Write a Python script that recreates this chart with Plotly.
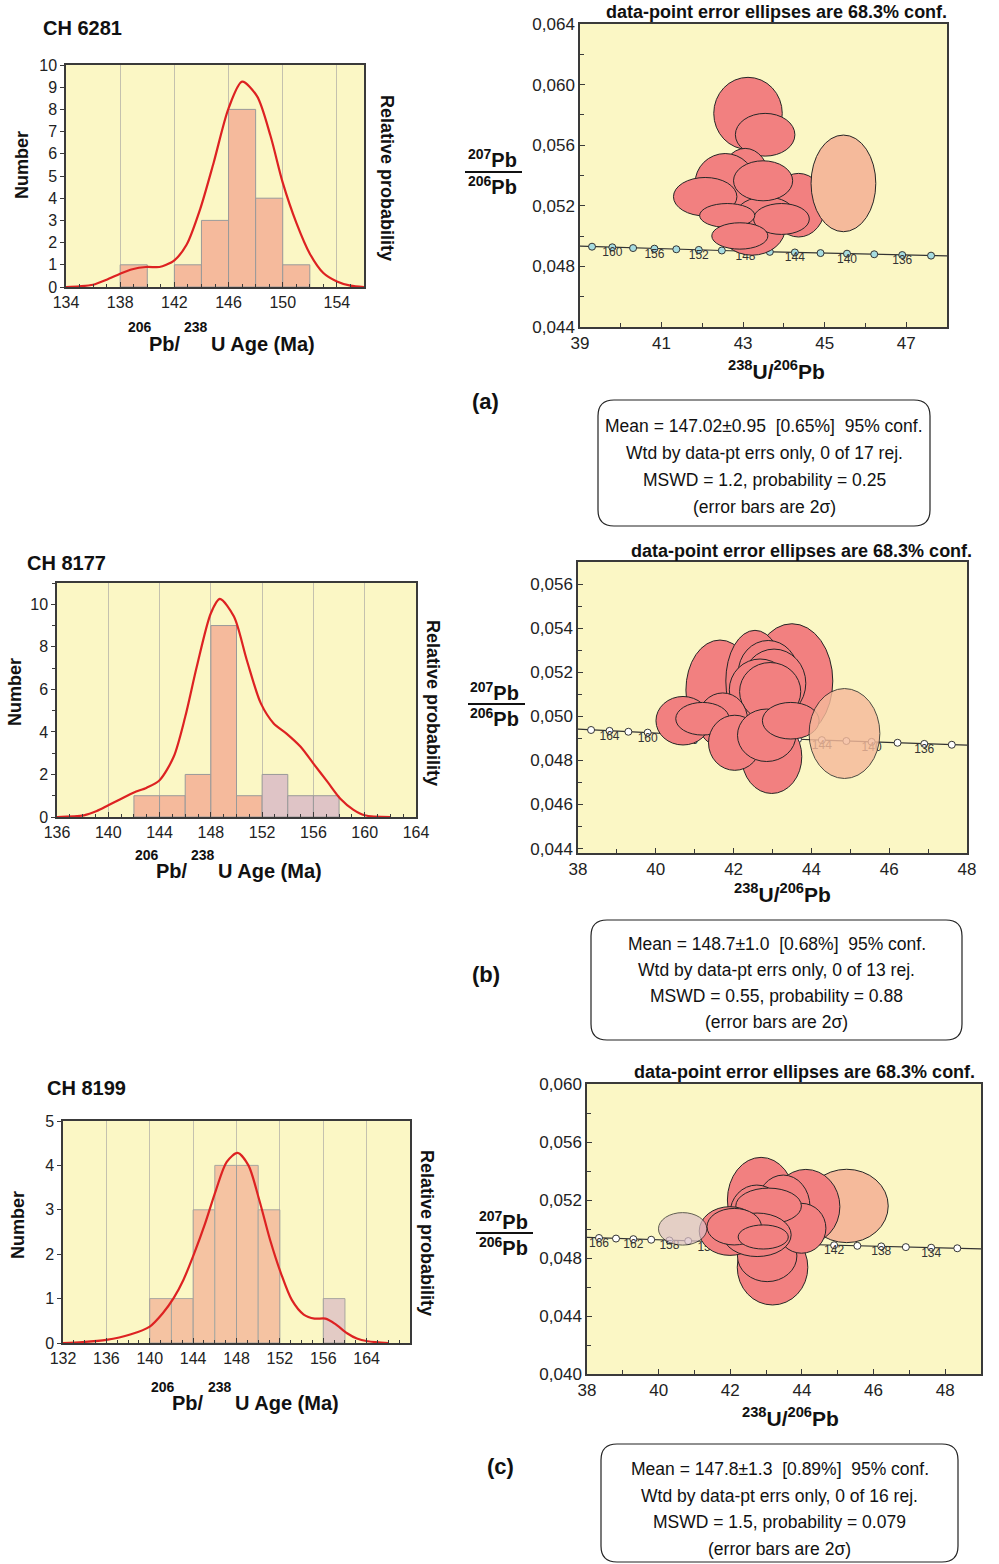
import plotly.graph_objects as go

W, H = 999, 1564
FONT = "Liberation Sans, Arial, sans-serif"
NB = "\u00a0"

# ---------------- DATA ----------------
# Histograms (left edges of 2-Ma bins, counts, group: 0 = used, 1 = excluded/young)
BIN_W = 2
hist_a_edges = [138, 142, 144, 146, 148, 150]
hist_a_counts = [1, 1, 3, 8, 4, 1]
hist_a_group = [0, 0, 0, 0, 0, 0]

hist_b_edges = [142, 144, 146, 148, 150, 152, 154, 156]
hist_b_counts = [1, 1, 2, 9, 1, 2, 1, 1]
hist_b_group = [0, 0, 0, 0, 0, 1, 1, 1]

hist_c_edges = [140, 142, 144, 146, 148, 150, 156]
hist_c_counts = [1, 1, 3, 4, 4, 3, 1]
hist_c_group = [0, 0, 0, 0, 0, 0, 1]

# Relative probability curves (in "Number" units)
curve_a_x = [134, 135, 136, 137, 138, 138.9, 139.9, 140.9, 141.4, 142, 142.9, 143.9, 144.9, 146, 147,
             148.1, 149.1, 150, 151, 152, 153, 154, 155, 156]
curve_a_y = [0.0, 0.03, 0.1, 0.33, 0.6, 0.8, 0.9, 0.9, 1.0, 1.2, 1.9, 3.5, 5.6, 8.05, 9.25,
             8.6, 6.8, 4.7, 2.9, 1.5, 0.63, 0.25, 0.06, 0.0]

curve_b_x = [136, 138.1, 139.1, 140, 140.9, 142, 143, 144, 145.1, 146, 146.9, 148, 148.7, 149.8, 150.8,
             151.9, 152.9, 153.9, 155, 156, 157.1, 158.1, 159.1, 160, 162]
curve_b_y = [0, 0.08, 0.28, 0.55, 0.82, 1.15, 1.38, 1.73, 2.83, 4.71, 7.06, 9.58, 10.25, 9.42, 7.38,
             5.34, 4.4, 3.92, 3.3, 2.51, 1.65, 0.86, 0.35, 0.08, 0]

curve_c_x = [132, 133.8, 136, 138.2, 140, 141.2, 142.2, 143.1, 144.1, 145.1, 146.1, 147.1, 148.1, 149.1,
             150.1, 151.1, 152.1, 153.1, 154.2, 155.2, 156.2, 157.1, 158.2, 159.1, 160.1, 162]
curve_c_y = [0, 0.02, 0.07, 0.19, 0.37, 0.67, 1.01, 1.42, 2.02, 2.69, 3.44, 4.08, 4.28, 4.0,
             3.22, 2.32, 1.57, 0.97, 0.64, 0.55, 0.55, 0.43, 0.22, 0.1, 0.04, 0]

# Concordia (age in Ma, 238U/206Pb, 207Pb/206Pb)
conc_age = [130, 132, 134, 136, 138, 140, 142, 144, 146, 148, 150, 152, 154, 156, 158, 160, 162, 164, 166, 168, 170]
conc_x = [49.090, 48.338, 47.609, 46.902, 46.215, 45.548, 44.899, 44.269, 43.655, 43.059, 42.478,
          41.913, 41.362, 40.825, 40.302, 39.792, 39.295, 38.810, 38.336, 37.874, 37.420]
conc_y = [0.04863, 0.04867, 0.04871, 0.04875, 0.04880, 0.04884, 0.04888, 0.04892, 0.04896, 0.04900, 0.04905,
          0.04909, 0.04913, 0.04917, 0.04921, 0.04926, 0.04930, 0.04934, 0.04938, 0.04943, 0.04947]
marker_ages = [132, 134, 136, 138, 140, 142, 144, 146, 148, 150, 152, 154, 156, 158, 160, 162, 164, 166]
label_ages_a = [160, 156, 152, 148, 144, 140, 136]
label_ages_b = [164, 160, 156, 152, 148, 144, 140, 136]
label_ages_c = [166, 162, 158, 154, 150, 146, 142, 138, 134]

# Error ellipses: centre x, centre y, semi-axis x, semi-axis y, kind (0 main, 1 excluded, 2 old)
ell_a_cx = [43.12, 43.54, 43.22, 43.05, 42.56, 44.36, 43.55, 43.49, 42.07, 43.94, 42.61, 42.92, 45.46]
ell_a_cy = [0.0581, 0.05669, 0.05061, 0.05369, 0.05347, 0.05204, 0.05149, 0.05365, 0.05260, 0.05113, 0.05136, 0.05001, 0.05348]
ell_a_rx = [0.84, 0.73, 0.82, 0.60, 0.74, 0.655, 0.71, 0.725, 0.778, 0.684, 0.676, 0.688, 0.794]
ell_a_ry = [0.00238, 0.00141, 0.00187, 0.0021, 0.00198, 0.0021, 0.0011, 0.00132, 0.00127, 0.00102, 0.00079, 0.00087, 0.00319]
ell_a_kind = [0, 0, 0, 0, 0, 0, 0, 0, 0, 0, 0, 0, 1]

ell_b_cx = [43.5, 41.65, 42.55, 42.89, 43.04, 42.68, 42.94, 41.72, 40.70, 41.20, 42.98, 42.03, 42.85, 43.47, 44.85]
ell_b_cy = [0.0516, 0.05119, 0.0516, 0.05195, 0.0515, 0.0512, 0.05112, 0.04983, 0.0498, 0.04989, 0.04817, 0.0488, 0.04914, 0.0498, 0.04922]
ell_b_rx = [1.05, 0.876, 0.75, 0.773, 0.816, 0.79, 0.786, 0.64, 0.696, 0.687, 0.773, 0.675, 0.75, 0.73, 0.91]
ell_b_ry = [0.0026, 0.00227, 0.0023, 0.00149, 0.00155, 0.0014, 0.00132, 0.00123, 0.0011, 0.00074, 0.00167, 0.00125, 0.00119, 0.00083, 0.00204]
ell_b_kind = [0, 0, 0, 0, 0, 0, 0, 0, 0, 0, 0, 0, 0, 0, 1]

ell_c_cx = [45.25, 43.18, 42.86, 44.11, 43.48, 42.74, 43.03, 43.99, 43.07, 41.99, 42.75, 42.11, 42.92, 40.67]
ell_c_cy = [0.05159, 0.04736, 0.0520, 0.05154, 0.05154, 0.05108, 0.04814, 0.05005, 0.05159, 0.04986, 0.0496, 0.05016, 0.04945, 0.05001]
ell_c_rx = [1.16, 0.985, 0.94, 0.95, 0.745, 0.745, 0.83, 0.68, 0.916, 0.857, 0.95, 0.76, 0.70, 0.675]
ell_c_ry = [0.00253, 0.0026, 0.00294, 0.00257, 0.00218, 0.00195, 0.00177, 0.00172, 0.00123, 0.00168, 0.0015, 0.00126, 0.00083, 0.00112]
ell_c_kind = [1, 0, 0, 0, 0, 0, 0, 0, 0, 0, 0, 0, 0, 2]

# Tick labels
hist_a_xticks = [134, 138, 142, 146, 150, 154]
hist_a_yticks = [0, 1, 2, 3, 4, 5, 6, 7, 8, 9, 10]
hist_b_xticks = [136, 140, 144, 148, 152, 156, 160, 164]
hist_b_yticks = [0, 2, 4, 6, 8, 10]
hist_c_xticks = [132, 136, 140, 144, 148, 152, 156, 160]
hist_c_xtext = ["132", "136", "140", "144", "148", "152", "156", "164"]
hist_c_yticks = [0, 1, 2, 3, 4, 5]

conc_a_xticks = [39, 41, 43, 45, 47]
conc_a_yticks = [0.044, 0.048, 0.052, 0.056, 0.060, 0.064]
conc_a_ytext = ["0,044", "0,048", "0,052", "0,056", "0,060", "0,064"]
conc_b_xticks = [38, 40, 42, 44, 46, 48]
conc_b_yticks = [0.044, 0.046, 0.048, 0.050, 0.052, 0.054, 0.056]
conc_b_ytext = ["0,044", "0,046", "0,048", "0,050", "0,052", "0,054", "0,056"]
conc_c_xticks = [38, 40, 42, 44, 46, 48]
conc_c_yticks = [0.040, 0.044, 0.048, 0.052, 0.056, 0.060]
conc_c_ytext = ["0,040", "0,044", "0,048", "0,052", "0,056", "0,060"]

stats_a = ["Mean = 147.02±0.95  [0.65%]  95% conf.", "Wtd by data-pt errs only, 0 of 17 rej.",
           "MSWD = 1.2, probability = 0.25", "(error bars are 2σ)"]
stats_b = ["Mean = 148.7±1.0  [0.68%]  95% conf.", "Wtd by data-pt errs only, 0 of 13 rej.",
           "MSWD = 0.55, probability = 0.88", "(error bars are 2σ)"]
stats_c = ["Mean = 147.8±1.3  [0.89%]  95% conf.", "Wtd by data-pt errs only, 0 of 16 rej.",
           "MSWD = 1.5, probability = 0.079", "(error bars are 2σ)"]

# ---------------- STYLE ----------------
BG = "#FBF7C5"
BAR_COL = ["#F5BA9C", "#DFC4C6"]
ELL_COL = ["#F28080", "#F5BA9B", "#DCC0C6"]
ELL_OP = {"a": [1, 1, 1], "b": [1, 0.82, 1], "c": [1, 1, 0.72]}
CURVE_COL = "#DD2222"
AX_COL = "#3a3a3a"
GRID_COL = "#C4C1AE"


def fx(px):
    return px / W


def fy(py):
    return 1 - py / H


fig = go.Figure()
layout = dict(template="none", width=W, height=H, margin=dict(l=0, r=0, t=0, b=0, pad=0), autosize=False,
              paper_bgcolor="white", plot_bgcolor=BG, showlegend=False,
              font=dict(family=FONT, color="#222"))
shapes = []
annotations = []


def ann(text, px, py, size, bold=False, angle=0, xanchor="center", color="#111"):
    t = f"<b>{text}</b>" if bold else text
    annotations.append(dict(text=t, x=fx(px), y=fy(py), xref="paper", yref="paper", showarrow=False,
                            xanchor=xanchor, yanchor="middle", textangle=angle,
                            font=dict(size=size, family=FONT, color=color)))


# ---------------- HISTOGRAMS ----------------
def histogram(n, box, xr, yr, xticks, xtext, yticks, ydminor, edges, counts, group, cx, cy, bars_on_top):
    xa, ya = f"xaxis{n if n > 1 else ''}", f"yaxis{n if n > 1 else ''}"
    xr_id, yr_id = f"x{n if n > 1 else ''}", f"y{n if n > 1 else ''}"
    x0, y0, x1, y1 = box
    layout[xa] = dict(domain=[fx(x0), fx(x1)], range=xr, anchor=yr_id, tickmode="array", tickvals=xticks,
                      ticktext=xtext, showgrid=True, gridcolor=GRID_COL, gridwidth=1, zeroline=False,
                      showline=True, mirror=True, linecolor=AX_COL, linewidth=1.5, automargin=False,
                      ticks="inside", ticklen=5, tickcolor=AX_COL, tickfont=dict(size=16, color="#222"),
                      minor=dict(tickmode="linear", tick0=0, dtick=1, ticks="inside", ticklen=3,
                                 tickcolor=AX_COL, showgrid=False))
    layout[ya] = dict(domain=[fy(y1), fy(y0)], range=yr, anchor=xr_id, tickmode="array", tickvals=yticks,
                      showgrid=False, zeroline=False, showline=True, mirror=True, linecolor=AX_COL,
                      linewidth=1.5, ticks="outside", ticklen=4, tickcolor=AX_COL, automargin=False,
                      tickfont=dict(size=16, color="#222"),
                      minor=dict(tickmode="linear", tick0=0, dtick=ydminor, ticks="outside", ticklen=3,
                                 tickcolor=AX_COL))
    centers = [e + BIN_W / 2 for e in edges]
    bar = go.Bar(x=centers, y=counts, width=BIN_W, xaxis=xr_id, yaxis=yr_id,
                 marker=dict(color=[BAR_COL[g] for g in group], line=dict(color="#9a9a9a", width=1)),
                 opacity=0.85 if bars_on_top else 1.0, hoverinfo="skip")
    line = go.Scatter(x=cx, y=cy, mode="lines", xaxis=xr_id, yaxis=yr_id,
                      line=dict(color=CURVE_COL, width=2.2, shape="spline", smoothing=0.8), hoverinfo="skip")
    if bars_on_top:
        fig.add_trace(line)
        fig.add_trace(bar)
    else:
        fig.add_trace(bar)
        fig.add_trace(line)


histogram(1, (66, 65, 364, 287), [134, 156], [0, 10], hist_a_xticks, [str(v) for v in hist_a_xticks],
          hist_a_yticks, 1, hist_a_edges, hist_a_counts, hist_a_group, curve_a_x, curve_a_y, False)
histogram(3, (57, 583, 416, 817), [136, 164], [0, 11], hist_b_xticks, [str(v) for v in hist_b_xticks],
          hist_b_yticks, 1, hist_b_edges, hist_b_counts, hist_b_group, curve_b_x, curve_b_y, False)
histogram(5, (63, 1121, 410, 1343), [132, 164], [0, 5], hist_c_xticks, hist_c_xtext,
          hist_c_yticks, 1, hist_c_edges, hist_c_counts, hist_c_group, curve_c_x, curve_c_y, True)


# ---------------- CONCORDIA ----------------
def concordia(n, key, box, xr, yr, xticks, yticks, ytext, ydminor, marker_col, label_ages,
              ecx, ecy, erx, ery, ekind):
    xa, ya = f"xaxis{n}", f"yaxis{n}"
    xr_id, yr_id = f"x{n}", f"y{n}"
    x0, y0, x1, y1 = box
    layout[xa] = dict(domain=[fx(x0), fx(x1)], range=xr, anchor=yr_id, tickmode="array", tickvals=xticks,
                      ticktext=[str(v) for v in xticks], showgrid=False, zeroline=False, showline=True,
                      mirror=True, linecolor=AX_COL, linewidth=1.5, ticks="inside", ticklen=5,
                      tickcolor=AX_COL, tickfont=dict(size=17, color="#222"), automargin=False,
                      minor=dict(tickmode="linear", tick0=0, dtick=1, ticks="inside", ticklen=4,
                                 tickcolor=AX_COL))
    layout[ya] = dict(domain=[fy(y1), fy(y0)], range=yr, anchor=xr_id, tickmode="array", tickvals=yticks,
                      ticktext=ytext, showgrid=False, zeroline=False, showline=True, mirror=True,
                      linecolor=AX_COL, linewidth=1.5, ticks="inside", ticklen=5, tickcolor=AX_COL,
                      tickfont=dict(size=17, color="#222"), automargin=False,
                      minor=dict(tickmode="linear", tick0=0, dtick=ydminor, ticks="inside", ticklen=4,
                                 tickcolor=AX_COL))
    fig.add_trace(go.Scatter(x=conc_x, y=conc_y, mode="lines", xaxis=xr_id, yaxis=yr_id,
                             line=dict(color="#333", width=1.2), hoverinfo="skip"))
    mx = [conc_x[conc_age.index(a)] for a in marker_ages]
    my = [conc_y[conc_age.index(a)] for a in marker_ages]
    fig.add_trace(go.Scatter(x=mx, y=my, mode="markers", xaxis=xr_id, yaxis=yr_id,
                             marker=dict(size=7, color=marker_col, line=dict(color="#333", width=1)),
                             hoverinfo="skip"))
    lx = [conc_x[conc_age.index(a)] for a in label_ages]
    ly = [conc_y[conc_age.index(a)] for a in label_ages]
    fig.add_trace(go.Scatter(x=lx, y=ly, mode="text", text=[str(a) for a in label_ages],
                             textposition="bottom center", xaxis=xr_id, yaxis=yr_id,
                             textfont=dict(size=12, color="#333", family=FONT), hoverinfo="skip"))
    for cx_, cy_, rx_, ry_, k in zip(ecx, ecy, erx, ery, ekind):
        shapes.append(dict(type="circle", xref=xr_id, yref=yr_id, x0=cx_ - rx_, x1=cx_ + rx_,
                           y0=cy_ - ry_, y1=cy_ + ry_, fillcolor=ELL_COL[k], opacity=ELL_OP[key][k],
                           line=dict(color="#262626", width=1), layer="above"))


concordia(2, "a", (580, 24, 947, 327), [39, 48], [0.044, 0.064], conc_a_xticks, conc_a_yticks, conc_a_ytext,
          0.002, "#A6DCE0", label_ages_a, ell_a_cx, ell_a_cy, ell_a_rx, ell_a_ry, ell_a_kind)
concordia(4, "b", (578, 562, 967, 853), [38, 48], [0.0438, 0.0570], conc_b_xticks, conc_b_yticks, conc_b_ytext,
          0.001, "white", label_ages_b, ell_b_cx, ell_b_cy, ell_b_rx, ell_b_ry, ell_b_kind)
concordia(6, "c", (587, 1084, 981, 1374), [38, 49], [0.040, 0.060], conc_c_xticks, conc_c_yticks, conc_c_ytext,
          0.002, "white", label_ages_c, ell_c_cx, ell_c_cy, ell_c_rx, ell_c_ry, ell_c_kind)


# ---------------- TEXT ----------------
def hist_texts(title, tx, ty, num_xy, rel_xy, sup1, pb, sup2, uage):
    ann(title, tx, ty, 20, bold=True, xanchor="left")
    ann("Number", num_xy[0], num_xy[1], 18, bold=True, angle=-90)
    ann("Relative probability", rel_xy[0], rel_xy[1], 18, bold=True, angle=90)
    ann("206", sup1[0], sup1[1], 14, bold=True)
    ann("Pb/", pb[0], pb[1], 20, bold=True)
    ann("238", sup2[0], sup2[1], 14, bold=True)
    ann("U Age (Ma)", uage[0], uage[1], 20, bold=True)


hist_texts("CH 6281", 41, 28, (22, 165), (387, 178), (140, 327), (165, 344), (196, 327), (263, 344))
hist_texts("CH 8177", 25, 563, (15, 692), (433, 703), (147, 855), (172, 871), (203, 855), (270, 871))
hist_texts("CH 8199", 45, 1088, (18, 1225), (427, 1233), (163, 1387), (188, 1403), (220, 1387), (287, 1403))


def conc_texts(label, lxy, title_right, title_y, frac_x, y207, y206, line_y, line_x0, line_x1, xt):
    ann("data-point error ellipses are 68.3% conf.", title_right, title_y, 18, bold=True, xanchor="right")
    ann("<sup>207</sup>Pb", frac_x, y207, 20, bold=True)
    ann("<sup>206</sup>Pb", frac_x, y206 - 3, 20, bold=True)
    shapes.append(dict(type="line", xref="paper", yref="paper", x0=fx(line_x0), x1=fx(line_x1),
                       y0=fy(line_y), y1=fy(line_y), line=dict(color="#111", width=2)))
    ann("<sup>238</sup>U/<sup>206</sup>Pb", xt[0], xt[1] - 3, 21, bold=True)
    ann(label, lxy[0], lxy[1], 22, bold=True)


conc_texts("(a)", (485, 401), 949, 12, 492, 158, 188, 172, 465, 522, (776, 373))
conc_texts("(b)", (486, 974), 974, 551, 494, 691, 720, 704, 468, 525, (782, 896))
conc_texts("(c)", (500, 1466), 977, 1072, 503, 1220, 1249, 1233, 476, 533, (790, 1420))


def rrect(x0, y0, x1, y1, r):
    pts = [("M", x0 + r, y0), ("L", x1 - r, y0), ("Q", x1, y0, x1, y0 + r), ("L", x1, y1 - r),
           ("Q", x1, y1, x1 - r, y1), ("L", x0 + r, y1), ("Q", x0, y1, x0, y1 - r), ("L", x0, y0 + r),
           ("Q", x0, y0, x0 + r, y0)]
    s = ""
    for p in pts:
        cmd = p[0]
        coords = p[1:]
        parts = []
        for i in range(0, len(coords), 2):
            parts.append(f"{fx(coords[i]):.5f},{fy(coords[i + 1]):.5f}")
        s += cmd + " " + " ".join(parts) + " "
    return s + "Z"


def stats_box(lines, box, line_ys):
    x0, y0, x1, y1 = box
    shapes.append(dict(type="path", xref="paper", yref="paper", path=rrect(x0, y0, x1, y1, 16),
                       line=dict(color="#222", width=1.2), fillcolor="white"))
    cx = (x0 + x1) / 2
    for t, yy in zip(lines, line_ys):
        ann(t.replace("  ", " " + NB), cx, yy, 17.5)


stats_box(stats_a, (598, 400, 930, 526), [426, 453, 480, 507])
stats_box(stats_b, (591, 920, 962, 1040), [944, 970, 996, 1022])
stats_box(stats_c, (601, 1444, 958, 1562), [1469, 1496, 1522, 1549])

layout["shapes"] = shapes
layout["annotations"] = annotations
fig.update_layout(**layout)
fig.write_html("out.html", config={"displayModeBar": False},
               post_script="document.body.style.margin='0px';document.body.style.overflow='hidden';")
